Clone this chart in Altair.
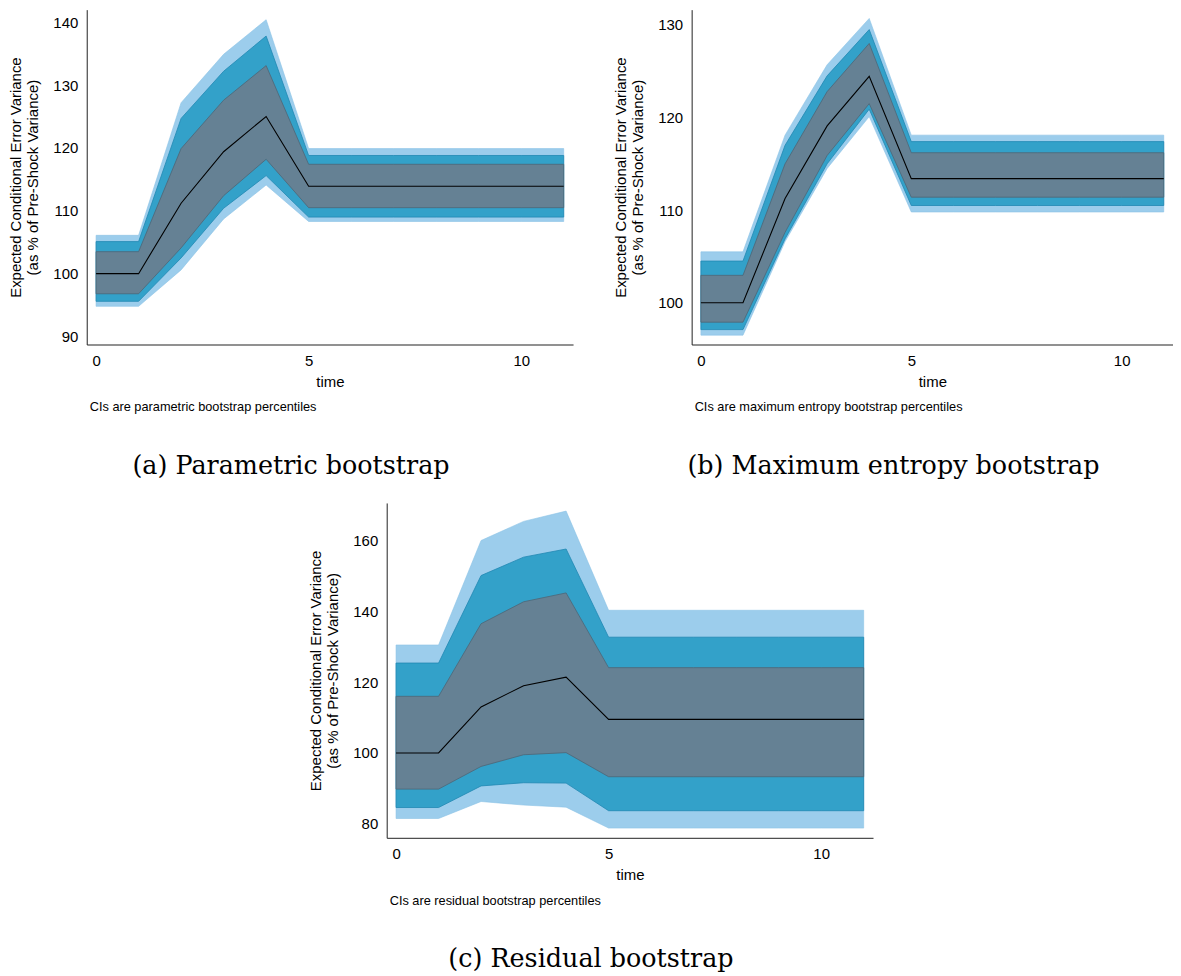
import altair as alt
import pandas as pd

# ---------------- data ----------------
time = [0, 1, 2, 3, 4, 5, 6, 7, 8, 9, 10, 11]

# (a) Parametric bootstrap
a_median = [100.0, 100.0, 111.2, 119.4, 125.0, 113.9, 113.9, 113.9, 113.9, 113.9, 113.9, 113.9]
a_in_hi = [103.5, 103.5, 119.9, 127.6, 133.1, 117.4, 117.4, 117.4, 117.4, 117.4, 117.4, 117.4]
a_in_lo = [96.8, 96.8, 104.1, 112.4, 118.2, 110.5, 110.5, 110.5, 110.5, 110.5, 110.5, 110.5]
a_mid_hi = [105.1, 105.1, 124.7, 132.2, 137.8, 118.8, 118.8, 118.8, 118.8, 118.8, 118.8, 118.8]
a_mid_lo = [95.6, 95.6, 102.5, 110.4, 115.6, 109.0, 109.0, 109.0, 109.0, 109.0, 109.0, 109.0]
a_out_hi = [106.1, 106.1, 127.2, 134.9, 140.4, 119.9, 119.9, 119.9, 119.9, 119.9, 119.9, 119.9]
a_out_lo = [94.8, 94.8, 100.6, 108.7, 114.1, 108.3, 108.3, 108.3, 108.3, 108.3, 108.3, 108.3]

# (b) Maximum entropy bootstrap
b_median = [100.0, 100.0, 111.25, 119.1, 124.45, 113.4, 113.4, 113.4, 113.4, 113.4, 113.4, 113.4]
b_in_hi = [102.96, 102.96, 115.0, 122.8, 128.0, 116.2, 116.2, 116.2, 116.2, 116.2, 116.2, 116.2]
b_in_lo = [97.9, 97.9, 107.6, 115.9, 121.5, 111.4, 111.4, 111.4, 111.4, 111.4, 111.4, 111.4]
b_mid_hi = [104.5, 104.5, 117.0, 124.5, 129.5, 117.4, 117.4, 117.4, 117.4, 117.4, 117.4, 117.4]
b_mid_lo = [97.1, 97.1, 106.9, 115.0, 120.9, 110.5, 110.5, 110.5, 110.5, 110.5, 110.5, 110.5]
b_out_hi = [105.5, 105.5, 118.1, 125.7, 130.7, 118.1, 118.1, 118.1, 118.1, 118.1, 118.1, 118.1]
b_out_lo = [96.5, 96.5, 106.6, 114.5, 120.1, 109.8, 109.8, 109.8, 109.8, 109.8, 109.8, 109.8]

# (c) Residual bootstrap
c_median = [100.0, 100.0, 113.0, 119.0, 121.4, 109.5, 109.5, 109.5, 109.5, 109.5, 109.5, 109.5]
c_in_hi = [116.0, 116.0, 136.5, 142.7, 145.2, 124.1, 124.1, 124.1, 124.1, 124.1, 124.1, 124.1]
c_in_lo = [89.8, 89.8, 96.2, 99.5, 100.1, 93.3, 93.3, 93.3, 93.3, 93.3, 93.3, 93.3]
c_mid_hi = [125.4, 125.4, 150.1, 155.3, 157.6, 132.7, 132.7, 132.7, 132.7, 132.7, 132.7, 132.7]
c_mid_lo = [84.6, 84.6, 90.7, 91.6, 91.5, 83.7, 83.7, 83.7, 83.7, 83.7, 83.7, 83.7]
c_out_hi = [130.5, 130.5, 160.0, 165.4, 168.3, 140.3, 140.3, 140.3, 140.3, 140.3, 140.3, 140.3]
c_out_lo = [81.5, 81.5, 86.3, 85.3, 84.7, 78.8, 78.8, 78.8, 78.8, 78.8, 78.8, 78.8]

x_ticks = [0, 5, 10]
a_y_ticks = [90, 100, 110, 120, 130, 140]
b_y_ticks = [100, 110, 120, 130]
c_y_ticks = [80, 100, 120, 140, 160]

y_title = ["Expected Conditional Error Variance", "(as % of Pre-Shock Variance)"]

# ---------------- styling ----------------
LIGHT = "#9ccdec"
LIGHT_EDGE = "#8cc3e6"
MID = "#33a1c9"
MID_EDGE = "#2188b3"
INNER = "#658194"
INNER_EDGE = "#4e6676"
SANS = "Liberation Sans"
SERIF = "DejaVu Serif"
H = 336


def panel(med, in_lo, in_hi, mid_lo, mid_hi, out_lo, out_hi,
          ydomain, yticks, note, title, width):
    df = pd.DataFrame({
        "time": time, "median": med,
        "in_lo": in_lo, "in_hi": in_hi,
        "mid_lo": mid_lo, "mid_hi": mid_hi,
        "out_lo": out_lo, "out_hi": out_hi,
    })
    xs = alt.Scale(domain=[-0.22, 11.22], nice=False, zero=False)
    ys = alt.Scale(domain=ydomain, nice=False, zero=False)
    xaxis = alt.Axis(values=x_ticks, title="time", grid=False, ticks=False,
                     labelPadding=9, titlePadding=6, format="d")
    yaxis = alt.Axis(values=yticks, title=y_title, grid=False, ticks=False,
                     labelPadding=9, titlePadding=12, format="d")
    base = alt.Chart(df)
    x = alt.X("time:Q", scale=xs, axis=xaxis)
    outer = base.mark_area(color=LIGHT, stroke=LIGHT_EDGE, strokeWidth=0.6).encode(
        x=x, y=alt.Y("out_lo:Q", scale=ys, axis=yaxis), y2="out_hi:Q")
    mid = base.mark_area(color=MID, stroke=MID_EDGE, strokeWidth=0.8).encode(
        x=x, y=alt.Y("mid_lo:Q", scale=ys, axis=yaxis), y2="mid_hi:Q")
    inner = base.mark_area(color=INNER, stroke=INNER_EDGE, strokeWidth=0.8).encode(
        x=x, y=alt.Y("in_lo:Q", scale=ys, axis=yaxis), y2="in_hi:Q")
    line = base.mark_line(color="black", strokeWidth=1.1).encode(
        x=x, y=alt.Y("median:Q", scale=ys, axis=yaxis))
    cap = alt.Chart(pd.DataFrame({"note": [note]})).mark_text(
        align="left", baseline="middle", font=SANS, fontSize=12.8, color="black"
    ).encode(x=alt.value(3), y=alt.value(H + 63), text="note:N")
    return alt.layer(outer, mid, inner, line, cap).properties(
        width=width, height=H,
        title=alt.Title(title, orient="bottom", font=SERIF, fontSize=25.5,
                        fontWeight="normal", anchor="middle", frame="bounds",
                        offset=40, color="black"),
    )


pa = panel(a_median, a_in_lo, a_in_hi, a_mid_lo, a_mid_hi, a_out_lo, a_out_hi,
           [88.73, 142.0], a_y_ticks, "CIs are parametric bootstrap percentiles",
           "(a) Parametric bootstrap", 488)
pb = panel(b_median, b_in_lo, b_in_hi, b_mid_lo, b_mid_hi, b_out_lo, b_out_hi,
           [95.49, 131.65], b_y_ticks, "CIs are maximum entropy bootstrap percentiles",
           "(b) Maximum entropy bootstrap", 483)
pc = panel(c_median, c_in_lo, c_in_hi, c_mid_lo, c_mid_hi, c_out_lo, c_out_hi,
           [76.05, 170.6], c_y_ticks, "CIs are residual bootstrap percentiles",
           "(c) Residual bootstrap", 488)

top = alt.hconcat(pa, pb, spacing=40)
chart = alt.vconcat(top, pc, spacing=23, center=True).properties(
    padding=0
).configure_view(stroke=None).configure_axis(
    labelFont=SANS, titleFont=SANS, labelFontSize=15, titleFontSize=15,
    titleFontWeight="normal", labelColor="black", titleColor="black",
    domainColor="#222222", domainWidth=1, titleLineHeight=17,
)

chart.save("out.html", embed_options={"renderer": "svg", "actions": False})
